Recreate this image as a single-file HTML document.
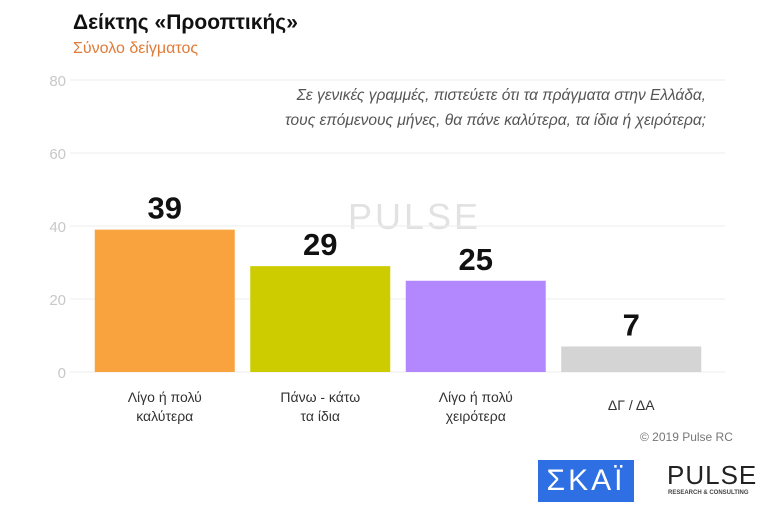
<!DOCTYPE html>
<html><head><meta charset="utf-8"><style>
body{margin:0;width:768px;height:512px;background:#fff;overflow:hidden;font-family:"Liberation Sans","DejaVu Sans",sans-serif;position:relative}
.t{position:absolute;white-space:nowrap}
</style></head><body>
<div class="t" style="left:73px;top:11px;font-size:21px;font-weight:bold;color:#111">Δείκτης «Προοπτικής»</div>
<div class="t" style="left:73px;top:40px;font-size:16px;color:#e07b39">Σύνολο δείγματος</div>
<div class="t" style="right:62px;top:83px;font-size:15.5px;font-style:italic;color:#555;text-align:right;line-height:25px">Σε γενικές γραμμές, πιστεύετε ότι τα πράγματα στην Ελλάδα,<br>τους επόμενους μήνες, θα πάνε καλύτερα, τα ίδια ή χειρότερα;</div>
<div class="t" style="left:348px;top:196px;font-size:36px;color:#e2e2e2;letter-spacing:3px">PULSE</div>
<svg id="chart" width="768" height="512" style="position:absolute;left:0;top:0"></svg>
<div class="t" style="left:640px;top:430px;font-size:12px;color:#777">© 2019 Pulse RC</div>
<div class="t" style="left:538px;top:460px;width:96px;height:42px;background:#2f6fe4;color:#fff;font-size:30px;line-height:42px;text-align:center;letter-spacing:3px">ΣΚΑΪ</div>
<div class="t" style="left:667px;top:460px;font-size:26px;color:#222;letter-spacing:1px">PULSE</div>
<div class="t" style="left:668px;top:490px;font-size:6px;color:#444;font-weight:bold">RESEARCH &amp; CONSULTING</div>
<script>
const categories=[["Λίγο ή πολύ","καλύτερα"],["Πάνω - κάτω","τα ίδια"],["Λίγο ή πολύ","χειρότερα"],["ΔΓ / ΔΑ"]];
const values=[39,29,25,7];
const colors=["#f9a33e","#cccc00","#b388ff","#d4d4d4"];
const ticks=[0,20,40,60,80];
const svg=document.getElementById('chart');const NS="http://www.w3.org/2000/svg";
const y=v=>372-v*(292/80);
const x0=87,slot=155.5,bw=140;
function mk(t,a,txt){const e=document.createElementNS(NS,t);for(const k in a)e.setAttribute(k,a[k]);if(txt!==undefined)e.textContent=txt;svg.appendChild(e);return e;}
ticks.forEach(t=>{
const l=mk('line',{x1:70,x2:725,y1:y(t),y2:y(t),stroke:'#ececec','stroke-width':1});


const tx=mk('text',{x:66,y:y(t)+6,'text-anchor':'end','font-size':15,fill:'#c8c8c8'},t);


});
values.forEach((v,i)=>{
const cx=x0+slot*i+slot/2;
const r=mk('rect',{x:cx-bw/2,y:y(v),width:bw,height:y(0)-y(v),fill:colors[i]});


const lab=mk('text',{x:cx,y:y(v)-11,'text-anchor':'middle','font-size':31,'font-weight':'bold',fill:'#111'},v);


categories[i].forEach((c,j)=>{
const ct=mk('text',{x:cx,y:(categories[i].length==1?410:402)+j*19,'text-anchor':'middle','font-size':14,fill:'#333'},c);


});
});
</script>
</body></html>
